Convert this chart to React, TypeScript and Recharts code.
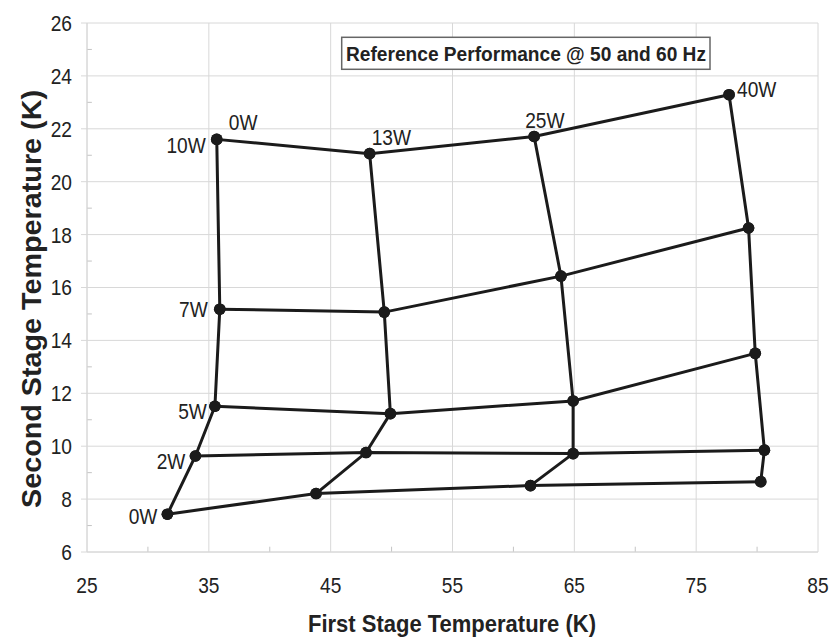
import { ScatterChart, Scatter, XAxis, YAxis, CartesianGrid, ReferenceLine } from "recharts";

// loads on each stage (labels on the map)
const firstStageLoads = ["0W", "13W", "25W", "40W"];
const secondStageLoads = ["0W", "2W", "5W", "7W", "10W"];

// first stage temperature (K), one array per second-stage load, in first-stage load order
const t1At0W = [31.6, 43.8, 61.4, 80.3];
const t1At2W = [33.9, 47.9, 64.9, 80.6];
const t1At5W = [35.5, 49.9, 64.9, 79.85];
const t1At7W = [35.9, 49.4, 63.9, 79.3];
const t1At10W = [35.65, 48.2, 61.7, 77.7];

// second stage temperature (K)
const t2At0W = [7.43, 8.21, 8.51, 8.66];
const t2At2W = [9.63, 9.76, 9.72, 9.85];
const t2At5W = [11.51, 11.23, 11.71, 13.51];
const t2At7W = [15.18, 15.07, 16.43, 18.25];
const t2At10W = [21.6, 21.06, 21.71, 23.29];

const xTicks = [25, 35, 45, 55, 65, 75, 85];
const yTicks = [6, 8, 10, 12, 14, 16, 18, 20, 22, 24, 26];
const xMinor = [30, 40, 50, 60, 70, 80];
const yMinor = [7, 9, 11, 13, 15, 17, 19, 21, 23, 25];

// hand placement of the load labels, [dx, dy] from the dot
const leftLabelShift = [[-10, 1.5], [-10, 5], [-8, 4.5], [-12, -0.5], [-11, 6]];
const topLabelShift = [[12, -17.5], [2, -16.5], [-9, -16], [8, -6]];

const FONT = "'Liberation Sans', Arial, sans-serif";
const INK = "#1b1b1b";
const GRID = "#d8d8d8";
const TXT = "#222";
const FS = 22;
const SQUEEZE = 0.87; // text in the original is slightly condensed

const t1Rows = [t1At0W, t1At2W, t1At5W, t1At7W, t1At10W];
const t2Rows = [t2At0W, t2At2W, t2At5W, t2At7W, t2At10W];

// constant second-stage load lines
const rows = t1Rows.map((r, i) =>
    r.map((x, j) => ({
        x,
        y: t2Rows[i][j],
        topTag: i === t1Rows.length - 1 ? firstStageLoads[j] : undefined,
        topShift: topLabelShift[j],
    }))
);

// constant first-stage load lines
const columns = firstStageLoads.map((_, j) =>
    t1Rows.map((r, i) => ({
        x: r[j],
        y: t2Rows[i][j],
        leftTag: j === 0 ? secondStageLoads[i] : undefined,
        leftShift: leftLabelShift[i],
    }))
);

function Narrow({ x, y, anchor, children }: any) {
    return (
        <text
            transform={`translate(${x},${y}) scale(${SQUEEZE},1)`}
            textAnchor={anchor}
            fontSize={FS}
            fontFamily={FONT}
            fill={TXT}
        >
            {children}
        </text>
    );
}

function Dot(props: any) {
    const { cx, cy, payload } = props;
    if (cx == null || cy == null) return null;
    const base = FS * 0.36;
    return (
        <g>
            <circle cx={cx} cy={cy} r={5.8} fill={INK} />
            {payload.leftTag && (
                <Narrow x={cx + payload.leftShift[0]} y={cy + payload.leftShift[1] + base} anchor="end">
                    {payload.leftTag}
                </Narrow>
            )}
            {payload.topTag && (
                <Narrow x={cx + payload.topShift[0]} y={cy + payload.topShift[1] + base} anchor="start">
                    {payload.topTag}
                </Narrow>
            )}
        </g>
    );
}

function XTick({ x, y, payload }: any) {
    return (
        <Narrow x={x} y={y + FS * 0.716} anchor="middle">
            {payload.value}
        </Narrow>
    );
}

function YTick({ x, y, payload }: any) {
    return (
        <Narrow x={x} y={y + FS * 0.36} anchor="end">
            {payload.value}
        </Narrow>
    );
}

export default function App() {
    return (
        <div style={{ position: "absolute", left: 0, top: 0, width: 829, height: 639, background: "#fff" }}>
            <ScatterChart width={829} height={639} margin={{ top: 23, right: 11, bottom: 27, left: 27 }} style={{ fontFamily: FONT }}>
                <CartesianGrid stroke={GRID} strokeWidth={1} />
                <XAxis
                    type="number"
                    dataKey="x"
                    domain={[25, 85]}
                    ticks={xTicks}
                    allowDataOverflow
                    height={60}
                    tickLine={false}
                    tickMargin={19}
                    axisLine={{ stroke: GRID }}
                    tick={<XTick />}
                />
                <YAxis
                    type="number"
                    dataKey="y"
                    domain={[6, 26]}
                    ticks={yTicks}
                    allowDataOverflow
                    width={60}
                    tickSize={6}
                    tickMargin={9}
                    tickLine={{ stroke: GRID }}
                    axisLine={{ stroke: GRID }}
                    tick={<YTick />}
                />
                {xMinor.map((v) => (
                    <ReferenceLine key={`xm-${v}`} segment={[{ x: v, y: 6 }, { x: v, y: 6.2 }]} stroke="#c4c4c4" />
                ))}
                {yMinor.map((v) => (
                    <ReferenceLine key={`ym-${v}`} segment={[{ x: 25, y: v }, { x: 25.4, y: v }]} stroke="#c4c4c4" />
                ))}
                {rows.map((d, i) => (
                    <Scatter
                        key={`row-${i}`}
                        data={d}
                        line={{ stroke: INK, strokeWidth: 3 }}
                        shape={Dot}
                        isAnimationActive={false}
                    />
                ))}
                {columns.map((d, j) => (
                    <Scatter
                        key={`col-${j}`}
                        data={d}
                        line={{ stroke: INK, strokeWidth: 3 }}
                        shape={Dot}
                        isAnimationActive={false}
                    />
                ))}

                {/* annotation box */}
                <rect x={341.7} y={37.3} width={368.3} height={32} fill="#fff" stroke="#666" strokeWidth={1.5} />
                <text x={526} y={61} textAnchor="middle" fontSize={21} fontWeight="bold" fontFamily={FONT} fill={TXT} textLength={360} lengthAdjust="spacingAndGlyphs">
                    Reference Performance @ 50 and 60 Hz
                </text>

                {/* axis titles */}
                <text x={452} y={632} textAnchor="middle" fontSize={24} fontWeight="bold" fontFamily={FONT} fill={TXT} textLength={288} lengthAdjust="spacingAndGlyphs">
                    First Stage Temperature (K)
                </text>
                <text transform="translate(41, 299) rotate(-90)" textAnchor="middle" fontSize={27} fontWeight="bold" fontFamily={FONT} fill={TXT} textLength={418} lengthAdjust="spacingAndGlyphs">
                    Second Stage Temperature (K)
                </text>
            </ScatterChart>
        </div>
    );
}
